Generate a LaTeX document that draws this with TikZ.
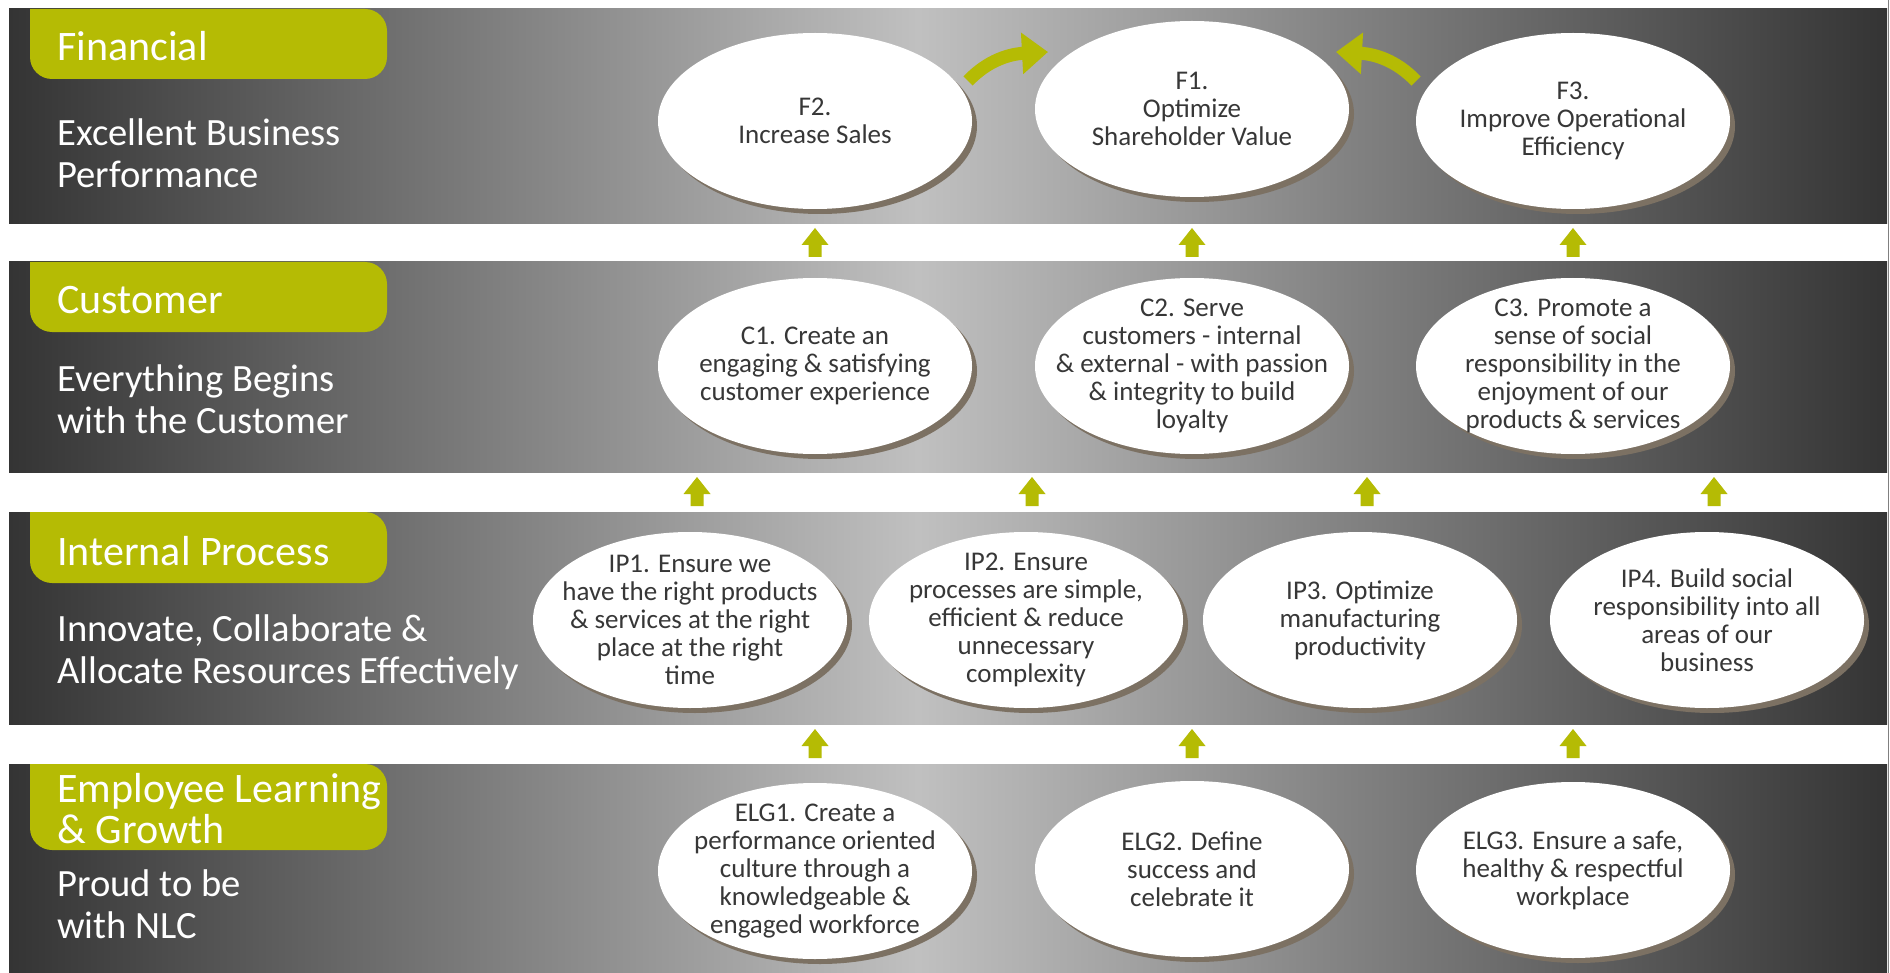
\documentclass[tikz,border=0pt]{standalone}
\usepackage{fontspec}
\setmainfont{Carlito}
\usetikzlibrary{shapes.geometric,shadows,arrows.meta}
\definecolor{olivetab}{RGB}{181,187,4}
\definecolor{bandDark}{RGB}{52,52,52}
\definecolor{bandLight}{RGB}{192,192,192}
\definecolor{shadowc}{RGB}{124,113,99}
\definecolor{txtgray}{RGB}{55,55,55}
\pgfdeclarehorizontalshading{bandfill}{100bp}{color(0bp)=(bandDark); color(25bp)=(bandDark); color(49.2bp)=(bandLight); color(75bp)=(bandDark); color(100bp)=(bandDark)}
\tikzset{%
obj/.style={ellipse,fill=white,minimum width=157pt,minimum height=88pt,inner xsep=-60pt,inner ysep=-40pt,align=center,text=txtgray,
  font=\fontsize{13.5}{14}\selectfont,general shadow={fill=shadowc,shadow xshift=2.5pt,shadow yshift=-2.5pt}},
head/.style={anchor=base west,inner sep=0pt,text=white,font=\fontsize{21}{24}\selectfont},
sub/.style={anchor=base west,inner sep=0pt,text=white,font=\fontsize{19.3}{22}\selectfont},
turn/.style={line width=6.5pt,olivetab,-{Triangle[length=13pt,width=20pt]}}
}

\begin{document}
\begin{tikzpicture}[x=0.5pt,y=-0.5pt]
\useasboundingbox (0,0) rectangle (1890,973);
\fill[white] (0,0) rectangle (1890,973);
\foreach \ytop/\ybot/\ytab in {9/224/79,262/472/332,512/724/583,764/973/850}
{
  \shade[shading=bandfill] (9,\ytop) rectangle (1887,\ybot);
  \fill[olivetab] (30,\ytop) [rounded corners=11pt] -- (30,\ytab) -- (387,\ytab) -- (387,\ytop) [sharp corners] -- cycle;
}
\draw[gray,line width=0.6pt] (1888.5,0) -- (1888.5,973);

\node[head] (fin) at (57,61) {Financial};
\node[sub] (fin1) at (57,146) {Excellent Business};
\node[sub] (fin2) at (57,188) {Performance};
\node[head] (cus) at (57,314) {Customer};
\node[sub] (cus1) at (57,391) {Everything Begins};
\node[sub] (cus2) at (57,433) {with the Customer};
\node[head] (ipr) at (57,565) {Internal Process};
\node[sub] (ipr1) at (57,641) {Innovate, Collaborate \&};
\node[sub] (ipr2) at (57,683) {Allocate Resources Effectively};
\node[head] (elg) at (57,802) {Employee Learning};
\node[head] (elgb) at (57,843) {\& Growth};
\node[sub] (elg1) at (57,896) {Proud to be};
\node[sub] (elg2) at (57,938) {with NLC};

\node[obj] (F2) at (815,121) {F2.\\Increase Sales};
\node[obj] (F1) at (1192,109) {F1.\\Optimize\\Shareholder Value};
\node[obj] (F3) at (1573,121) {F3.\\Improve Operational\\Efficiency};

\node[obj] (C1) at (815,366) {C1. Create an\\engaging \& satisfying\\customer experience};
\node[obj] (C2) at (1192,366) {C2. Serve\\customers - internal\\\& external - with passion\\\& integrity to build\\loyalty};
\node[obj] (C3) at (1573,366) {C3. Promote a\\sense of social\\responsibility in the\\enjoyment of our\\products \& services};

\node[obj] (IP1) at (690,620) {IP1. Ensure we\\have the right products\\\& services at the right\\place at the right\\time};
\node[obj] (IP2) at (1026,620) {IP2. Ensure\\processes are simple,\\efficient \& reduce\\unnecessary\\complexity};
\node[obj] (IP3) at (1360,620) {IP3. Optimize\\manufacturing\\productivity};
\node[obj] (IP4) at (1707,620) {IP4. Build social\\responsibility into all\\areas of our\\business};

\node[obj] (ELG1) at (815,871) {ELG1. Create a\\performance oriented\\culture through a\\knowledgeable \&\\engaged workforce};
\node[obj] (ELG2) at (1192,869) {ELG2. Define\\success and\\celebrate it};
\node[obj] (ELG3) at (1573,870) {ELG3. Ensure a safe,\\healthy \& respectful\\workplace};

\foreach \y/\xs in {228/{815,1192,1573},477/{697,1032,1367,1714},729/{815,1192,1573}}
  \foreach \x in \xs
    \fill[olivetab] (\x,\y) -- ++(13.5,17) -- ++(-7,0) -- ++(0,12) -- ++(-13,0) -- ++(0,-12) -- ++(-7,0) -- cycle;

\coordinate (t2) at (968,81);
\coordinate (h1l) at (1048,52);
\coordinate (t3) at (1416,81);
\coordinate (h1r) at (1336,52);
\draw[turn] (t2) .. controls (988,60) and (1010,54) .. (h1l);
\draw[turn] (t3) .. controls (1396,60) and (1374,54) .. (h1r);
\end{tikzpicture}
\end{document}
